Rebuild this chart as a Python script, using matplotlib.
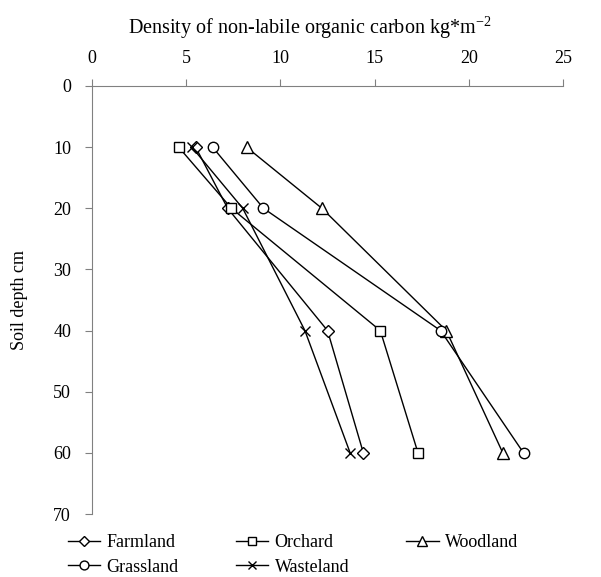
import matplotlib.pyplot as plt

plt.rcParams['font.family'] = ['Liberation Serif', 'DejaVu Serif']
plt.rcParams['mathtext.fontset'] = 'custom'
plt.rcParams['mathtext.rm'] = 'Liberation Serif'
plt.rcParams['mathtext.it'] = 'Liberation Serif:italic'

depths = [10, 20, 40, 60]
farmland = [5.5, 7.2, 12.5, 14.4]
orchard = [4.6, 7.4, 15.3, 17.3]
woodland = [8.2, 12.2, 18.8, 21.8]
grassland = [6.4, 9.1, 18.5, 22.9]
wasteland = [5.3, 8.0, 11.3, 13.7]

series = [
  ('Farmland', farmland, 'D', 6),
  ('Orchard', orchard, 's', 7.5),
  ('Woodland', woodland, '^', 8.5),
  ('Grassland', grassland, 'o', 7.5),
  ('Wasteland', wasteland, 'x', 7.5),
]

fig = plt.figure(figsize=(6.01, 5.77), dpi=100)
ax = fig.add_axes([0.153, 0.109, 0.784, 0.742])

lines = {}
for name, vals, mk, ms in series:
  ln, = ax.plot(vals, depths, color='black', lw=1, marker=mk, ms=ms,
                mfc='white', mec='black', mew=1, label=name)
  lines[name] = ln

ax.set_xlim(0, 25)
ax.set_ylim(70, 0)
ax.set_xticks(range(0, 26, 5))
ax.set_yticks(range(0, 71, 10))
ax.xaxis.tick_top()
ax.xaxis.set_label_position('top')
ax.set_xlabel('Density of non-labile organic carbon kg*m$^{\\mathrm{-2}}$', fontsize=14.5)
ax.xaxis.set_label_coords(0.463, 1.122)
ax.set_ylabel('Soil depth cm', fontsize=13, labelpad=18)

for s in ['right', 'bottom']:
  ax.spines[s].set_visible(False)
for s in ['left', 'top']:
  ax.spines[s].set_color('#808080')
ax.tick_params(direction='out', color='#808080', length=5, labelsize=13, pad=10)
ax.tick_params(axis='x', pad=9)

# row-major order for a 3-column legend
order = ['Farmland', 'Grassland', 'Orchard', 'Wasteland', 'Woodland']
ax.legend([lines[n] for n in order], order, loc='upper left',
          bbox_to_anchor=(-0.051, -0.047), ncol=3, frameon=False,
          fontsize=13, handlelength=1.8, columnspacing=3.15, handletextpad=0.35,
          labelspacing=0.42, borderaxespad=0, borderpad=0, markerscale=0.85)

fig.savefig('out.png', dpi=100)
